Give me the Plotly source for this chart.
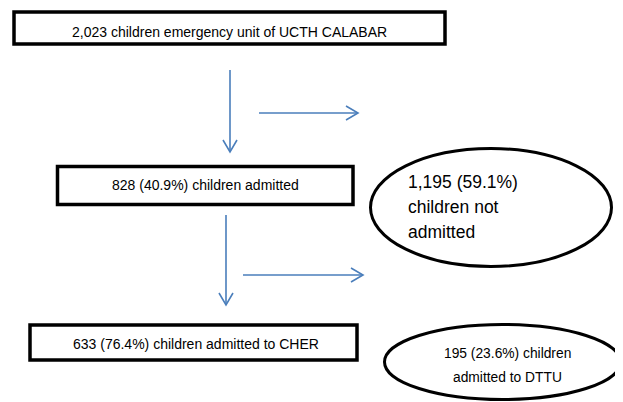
import plotly.graph_objects as go

# ---- content ----
box_labels = [
    "2,023 children emergency unit of UCTH CALABAR",
    "828 (40.9%) children admitted",
    "633 (76.4%) children admitted to CHER",
]
ellipse1_lines = ["1,195 (59.1%)", "children not", "admitted"]
ellipse2_lines = ["195 (23.6%) children", "admitted to DTTU"]

# ---- layout geometry (pixel space of the 623x402 window) ----
box_geom = [(14, 12, 445, 44), (57.5, 166.5, 353, 204.5), (30, 325, 357, 360)]
box_text_pos = [(229.5, 32), (205, 185), (196, 344)]
ell_geom = [(370.5, 148.5, 611.5, 266.5), (384.5, 324.5, 620.5, 399.5)]
ell1_text = dict(x=406, ys=[182, 207, 232], size=17.5)
ell2_text = dict(x=507, ys=[353, 377], size=13.8)
# arrows: (x0, y0, x1, y1)
arrows = [(230, 70, 230, 152), (259, 113, 358, 113),
          (226, 215, 226, 305), (243, 275, 363, 275)]

BLUE = "#4A7EBB"
FONT = "Liberation Sans, Arial, sans-serif"
PAGE_OFFSET = 8  # default body margin of the page

fig = go.Figure()
shapes = []
annotations = []

for (x0, y0, x1, y1) in box_geom:
    shapes.append(dict(type="rect", xref="x", yref="y", x0=x0, y0=y0, x1=x1, y1=y1,
                       line=dict(color="black", width=3.5), fillcolor="white", layer="below"))
for (x0, y0, x1, y1) in ell_geom:
    shapes.append(dict(type="circle", xref="x", yref="y", x0=x0, y0=y0, x1=x1, y1=y1,
                       line=dict(color="black", width=3), fillcolor="white", layer="below"))

for (x0, y0, x1, y1) in arrows:
    shapes.append(dict(type="line", xref="x", yref="y", x0=x0, y0=y0, x1=x1, y1=y1,
                       line=dict(color=BLUE, width=1.6)))
    if x0 == x1:  # vertical, pointing down
        path = f"M {x1-7},{y1-12} L {x1},{y1} L {x1+7},{y1-12}"
    else:  # horizontal, pointing right
        path = f"M {x1-12},{y1-7} L {x1},{y1} L {x1-12},{y1+7}"
    shapes.append(dict(type="path", xref="x", yref="y", path=path,
                       line=dict(color=BLUE, width=1.6)))

for label, (tx, ty) in zip(box_labels, box_text_pos):
    annotations.append(dict(x=tx, y=ty, xref="x", yref="y", text=label, showarrow=False,
                            xanchor="center", yanchor="middle",
                            font=dict(family=FONT, size=14, color="black")))

for line, ty in zip(ellipse1_lines, ell1_text["ys"]):
    annotations.append(dict(x=ell1_text["x"], y=ty, xref="x", yref="y", text=line,
                            showarrow=False, xanchor="left", yanchor="middle",
                            font=dict(family=FONT, size=ell1_text["size"], color="black")))

for line, ty in zip(ellipse2_lines, ell2_text["ys"]):
    annotations.append(dict(x=ell2_text["x"], y=ty, xref="x", yref="y", text=line,
                            showarrow=False, xanchor="center", yanchor="middle",
                            font=dict(family=FONT, size=ell2_text["size"], color="black")))

W, H = 623, 402
fig.update_layout(
    width=W - PAGE_OFFSET, height=H - PAGE_OFFSET,
    margin=dict(l=0, r=0, t=0, b=0),
    paper_bgcolor="white", plot_bgcolor="white",
    xaxis=dict(range=[PAGE_OFFSET, W], visible=False, fixedrange=True),
    yaxis=dict(range=[H, PAGE_OFFSET], visible=False, fixedrange=True),
    shapes=shapes, annotations=annotations, showlegend=False,
)

fig.write_html("out.html", config={"displayModeBar": False})
